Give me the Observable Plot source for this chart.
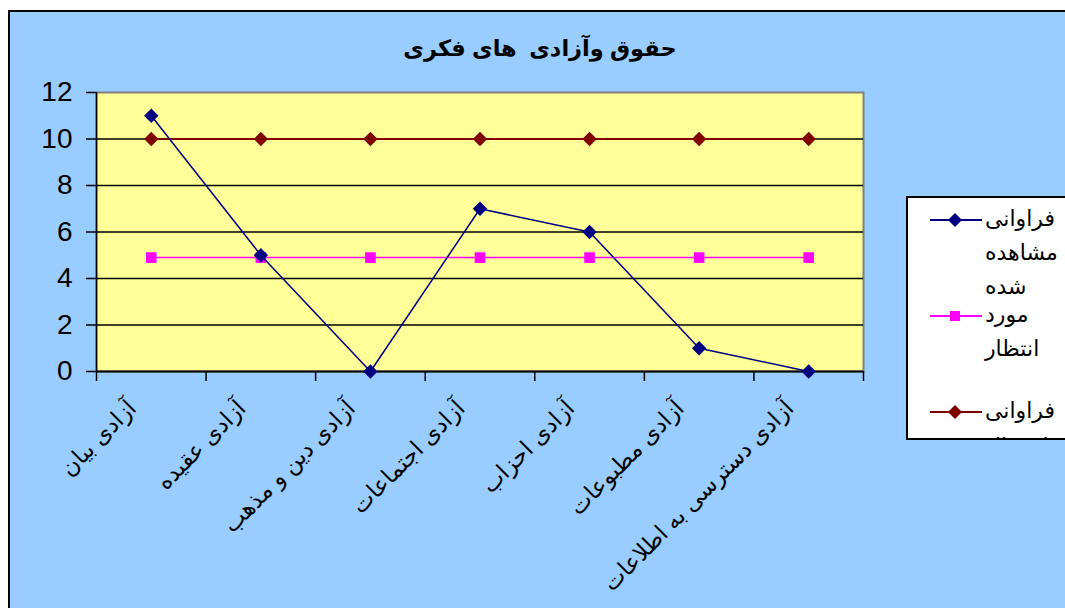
<!DOCTYPE html>
<html><head><meta charset="utf-8">
<script src="https://cdn.jsdelivr.net/npm/d3@7"></script>
<script src="https://cdn.jsdelivr.net/npm/@observablehq/plot@0.6"></script>
<style>
body{margin:0;background:#fff;}
#wrap{position:relative;width:1065px;height:608px;overflow:hidden;background:#fff;font-family:"Liberation Sans","DejaVu Sans",Arial,sans-serif;}
#bg{position:absolute;left:8px;top:10px;width:1070px;height:610px;background:#99CCFF;border:2px solid #000;}
#chart{position:absolute;left:0;top:0;}
#title{position:absolute;left:0;width:1080px;top:35px;text-align:center;font-weight:bold;font-size:22.5px;white-space:pre;}
#legend{position:absolute;left:906px;top:196px;width:170px;height:240px;background:#fff;border:2px solid #000;overflow:hidden;}
.lt{position:absolute;font-size:22px;white-space:nowrap;}
</style></head>
<body>
<div id="wrap">
<div id="bg"></div>
<div id="chart"></div>
<div id="title" dir="rtl">حقوق وآزادی  های فکری</div>
<div id="legend"></div>
</div>
<script>
const categories = ["آزادی بیان","آزادی عقیده","آزادی دین و مذهب","آزادی اجتماعات","آزادی احزاب","آزادی مطبوعات","آزادی دسترسی به اطلاعات"];
const observed = [11,5,0,7,6,1,0];
const expected = [4.9,4.9,4.9,4.9,4.9,4.9,4.9];
const ideal = [10,10,10,10,10,10,10];
const yTicks = [0,2,4,6,8,10,12];
const seriesNames = ["فراوانی مشاهده شده","مورد انتظار","فراوانی ایده ال"];

const rows = categories.map((c,i)=>({cat:c,pos:i+0.5,obs:observed[i],exp:expected[i],ideal:ideal[i]}));

const chart = Plot.plot({
  width:1065, height:608,
  marginLeft:96, marginRight:202, marginTop:92, marginBottom:237,
  style:{background:"transparent",fontFamily:"Liberation Sans, DejaVu Sans, Arial, sans-serif",color:"#000"},
  x:{type:"linear",domain:[0,categories.length]},
  y:{domain:[0,12]},
  marks:[
    Plot.frame({fill:"#FFFF99",stroke:"#808080",strokeWidth:2}),
    Plot.ruleY(yTicks.filter(t=>t>0&&t<12),{stroke:"#000",strokeWidth:1.5}),
    Plot.ruleY([0],{stroke:"#000",strokeWidth:2}),
    Plot.ruleX([0],{stroke:"#000",strokeWidth:1.5}),
    Plot.axisY({ticks:yTicks,tickSize:10,tickPadding:14,fontSize:28,label:null,strokeWidth:1.5}),
    Plot.axisX({ticks:d3.range(categories.length+1),tickSize:10,tickFormat:()=>"",label:null,strokeWidth:1.5}),
    Plot.text(rows,{x:"pos",y:()=>0,text:"cat",rotate:-45,textAnchor:"end",dx:-19,dy:33,fontSize:23}),
    Plot.line(rows,{x:"pos",y:"ideal",stroke:"#800000",strokeWidth:2}),
    Plot.dot(rows,{x:"pos",y:"ideal",symbol:"diamond2",r:6.5,fill:"#800000",stroke:"none"}),
    Plot.line(rows,{x:"pos",y:"exp",stroke:"#FF00FF",strokeWidth:1.5}),
    Plot.dot(rows,{x:"pos",y:"exp",symbol:"square",r:6,fill:"#FF00FF",stroke:"none"}),
    Plot.line(rows,{x:"pos",y:"obs",stroke:"#000080",strokeWidth:1.5}),
    Plot.dot(rows,{x:"pos",y:"obs",symbol:"diamond2",r:6.5,fill:"#000080",stroke:"none"})
  ]
});
document.getElementById("chart").append(chart);

// legend
const legend = document.getElementById("legend");
const colors = ["#000080","#FF00FF","#800000"];
const shapes = ["diamond","square","diamond"];
const lines = [["فراوانی","مشاهده","شده"],["مورد","انتظار"],["فراوانی","ایده ال"]];
const lineY = [[22,56,90],[118,152],[214,250]];
lines.forEach((ls,k)=>{
  const svg = d3.create("svg").attr("width",60).attr("height",20).style("position","absolute").style("left","20px").style("top",(lineY[k][0]-10)+"px");
  svg.append("line").attr("x1",2).attr("x2",54).attr("y1",10).attr("y2",10).attr("stroke",colors[k]).attr("stroke-width",2);
  if(shapes[k]==="diamond") svg.append("path").attr("d","M27,3L34,10L27,17L20,10Z").attr("fill",colors[k]);
  else svg.append("rect").attr("x",22).attr("y",5).attr("width",10).attr("height",10).attr("fill",colors[k]);
  legend.append(svg.node());
  ls.forEach((t,j)=>{
    const s=document.createElement("div");
    s.className="lt"; s.dir="rtl"; s.textContent=t;
    s.style.left="77px"; s.style.top=(lineY[k][j]-14)+"px";
    legend.append(s);
  });
});
</script>
</body></html>
